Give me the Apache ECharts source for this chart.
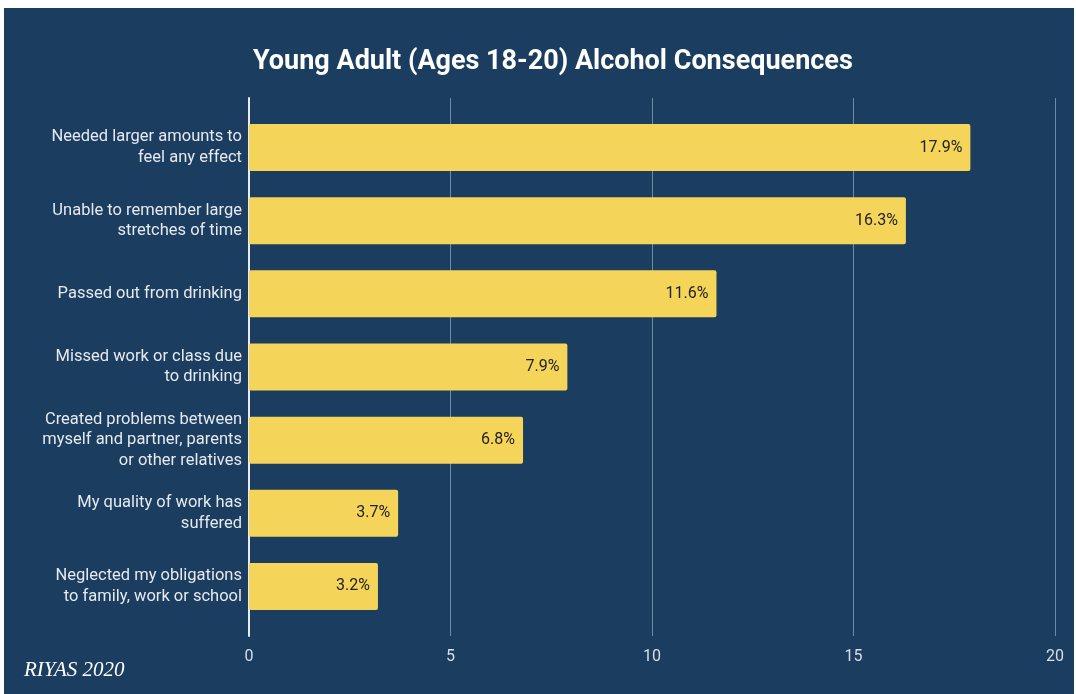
<!DOCTYPE html>
<html>
<head>
<meta charset="utf-8">
<script src="https://cdn.jsdelivr.net/npm/echarts@6/dist/echarts.min.js"></script>
<style>
html,body{margin:0;padding:0;background:#ffffff;}
#chart{width:1076px;height:694px;}
</style>
</head>
<body>
<div id="chart"></div>
<script>
const categories = [
  "Needed larger amounts to\nfeel any effect",
  "Unable to remember large\nstretches of time",
  "Passed out from drinking",
  "Missed work or class due\nto drinking",
  "Created problems between\nmyself and partner, parents\nor other relatives",
  "My quality of work has\nsuffered",
  "Neglected my obligations\nto family, work or school"
];
const values = [17.9, 16.3, 11.6, 7.9, 6.8, 3.7, 3.2];
const xTicks = [0, 5, 10, 15, 20];

const chart = echarts.init(document.getElementById('chart'));
const bg = '#1b3d5f';
chart.setOption({
  animation: false,
  backgroundColor: bg,
  title: {
    text: 'Young Adult (Ages 18-20) Alcohol Consequences',
    left: 248, top: 44,
    textStyle: {color: '#ffffff', fontFamily: 'Roboto', fontWeight: 'bold', fontSize: 27}
  },
  graphic: [
    {type: 'rect', left: 0, top: 0, shape: {width: 1076, height: 8}, style: {fill: '#ffffff'}, z: 100},
    {type: 'rect', left: 0, top: 0, shape: {width: 4, height: 694}, style: {fill: '#ffffff'}, z: 100},
    {type: 'rect', left: 1074, top: 0, shape: {width: 2, height: 694}, style: {fill: '#ffffff'}, z: 100},
    {type: 'text', left: 24, top: 660, style: {text: 'RIYAS 2020', fill: '#ffffff', font: 'italic 21px "Liberation Serif", "DejaVu Serif", serif'}}
  ],
  grid: [
    {left: 249, right: 21, top: 111, height: 512},
    {left: 249, right: 21, top: 98, height: 538}
  ],
  xAxis: [
    {gridIndex: 0, type: 'value', min: 0, max: 20, interval: 5, show: false},
    {gridIndex: 1, type: 'value', min: 0, max: 20, interval: 5,
      axisLine: {show: false}, axisTick: {show: false},
      axisLabel: {color: '#d8dee6', fontFamily: 'Roboto', fontSize: 16, margin: 13,
        formatter: v => xTicks.includes(v) ? String(v) : ''},
      splitLine: {show: true, lineStyle: {color: '#6f8aa4', width: 1}}}
  ],
  yAxis: [
    {gridIndex: 0, type: 'category', data: categories, inverse: true,
      axisLine: {show: false}, axisTick: {show: false},
      axisLabel: {color: '#e6e9ee', fontFamily: 'Roboto', fontSize: 16.5, lineHeight: 20.5, margin: 7, align: 'right'}},
    {gridIndex: 1, type: 'category', data: categories, inverse: true,
      axisLine: {show: true, lineStyle: {color: '#e8ecf0', width: 2}},
      axisTick: {show: false}, axisLabel: {show: false}}
  ],
  series: [{
    type: 'bar', xAxisIndex: 0, yAxisIndex: 0,
    data: values, barWidth: 47,
    itemStyle: {color: '#f5d45a', borderRadius: 2},
    label: {show: true, position: 'insideRight', distance: 8,
      formatter: p => p.value.toFixed(1) + '%',
      color: '#222222', fontFamily: 'Roboto', fontSize: 16},
    z: 3
  }]
});
</script>
</body>
</html>
